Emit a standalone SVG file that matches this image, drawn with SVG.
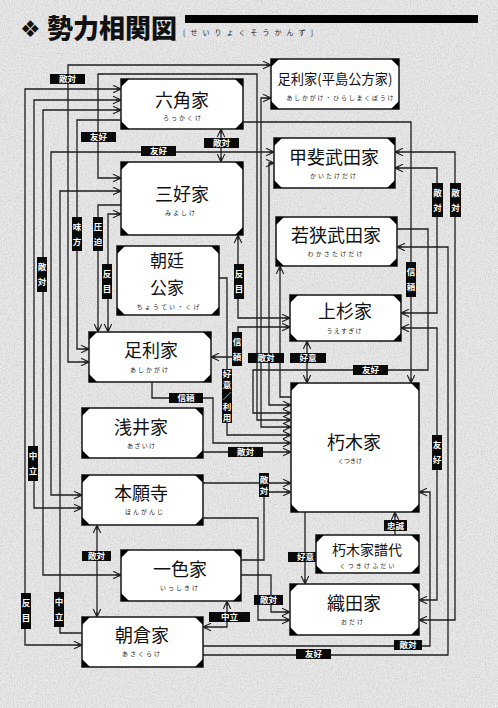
<svg xmlns="http://www.w3.org/2000/svg" width="498" height="708" viewBox="0 0 498 708">
<defs>
<style>
.ln{fill:none;stroke:#1e1e1e;stroke-width:1.3}
.bx{fill:#fff;stroke:#222;stroke-width:1.6}
.cn{fill:#000}
.tt{font-family:"Noto Sans CJK JP","Noto Sans CJK SC",sans-serif;font-size:18px;text-anchor:middle;fill:#111}
.rb{font-family:"Noto Sans CJK JP","Noto Sans CJK SC",sans-serif;font-size:6px;text-anchor:middle;fill:#222}
.lb{fill:#0a0a0a}
.lt{font-family:"Noto Sans CJK JP","Noto Sans CJK SC",sans-serif;font-size:8.5px;font-weight:700;fill:#fff;text-anchor:middle}
</style>
<marker id="a" markerUnits="userSpaceOnUse" markerWidth="10" markerHeight="9" refX="9" refY="4.5" orient="auto-start-reverse">
<path d="M1,0.8 L9,4.5 L1,8.2 M4,4.5 L9,4.5" fill="none" stroke="#1e1e1e" stroke-width="1.1"/>
</marker>
<filter id="nz" x="0" y="0" width="100%" height="100%">
<feTurbulence type="fractalNoise" baseFrequency="0.75" numOctaves="2" seed="4"/>
<feColorMatrix type="matrix" values="0 0 0 0 0.35  0 0 0 0 0.35  0 0 0 0 0.35  0 0 0 1.6 -0.65"/>
</filter>
</defs>
<rect width="498" height="708" fill="#e9e9e9"/>
<rect width="498" height="708" filter="url(#nz)" opacity="0.55"/>

<g id="title">
<text x="20" y="37" font-family="DejaVu Sans,sans-serif" font-size="23" fill="#111">❖</text>
<text x="47" y="38" font-family="'Noto Sans CJK JP','Noto Sans CJK SC',sans-serif" font-size="26" font-weight="900" fill="#111">勢力相関図</text>
<rect x="185" y="15" width="293" height="8" fill="#000"/>
<text x="183" y="35" font-family="'Noto Sans CJK JP',sans-serif" font-size="7" fill="#222" textLength="130" lengthAdjust="spacing">[せいりょくそうかんず]</text>
</g>

<g id="connectors">
<path class="ln" marker-start="url(#a)" marker-end="url(#a)" d="M121,89 H25 V645 H82"/>
<path class="ln" marker-start="url(#a)" marker-end="url(#a)" d="M121,100 H34 V508 H82"/>
<path class="ln" marker-start="url(#a)" marker-end="url(#a)" d="M121,110 H43 V575 H121"/>
<path class="ln" marker-start="url(#a)" marker-end="url(#a)" d="M274,152 H51 V495 H82"/>
<path class="ln" marker-end="url(#a)" d="M82,633 H60 V191 H121"/>
<path class="ln" marker-start="url(#a)" marker-end="url(#a)" d="M271,65 H68 V362 H89"/>
<path class="ln" marker-end="url(#a)" d="M121,120 H77 V349 H89"/>
<path class="ln" marker-start="url(#a)" marker-end="url(#a)" d="M291,420 H257 V74 H98 V178 H121"/>
<path class="ln" marker-end="url(#a)" d="M121,205 H98 V332"/>
<path class="ln" marker-start="url(#a)" marker-end="url(#a)" d="M121,214 H108 V332"/>
<path class="ln" marker-start="url(#a)" marker-end="url(#a)" d="M221,129 V162"/>
<path class="ln" marker-start="url(#a)" marker-end="url(#a)" d="M238,235 V318 H290"/>
<path class="ln" marker-start="url(#a)" marker-end="url(#a)" d="M290,327 H238 V357 H211"/>
<path class="ln" marker-end="url(#a)" d="M219,278 H227 V435 H291"/>
<path class="ln" marker-end="url(#a)" d="M152,382 V398 H213 V443 H291"/>
<path class="ln" marker-end="url(#a)" d="M203,452 H291"/>
<path class="ln" marker-start="url(#a)" marker-end="url(#a)" d="M307,341 V383"/>
<path class="ln" marker-end="url(#a)" d="M243,122 H411 V383"/>
<path class="ln" marker-start="url(#a)" marker-end="url(#a)" d="M395,168 H437 V313 H401"/>
<path class="ln" marker-start="url(#a)" marker-end="url(#a)" d="M395,152 H455 V620 H419"/>
<path class="ln" marker-start="url(#a)" marker-end="url(#a)" d="M401,328 H437 V600 H419"/>
<path class="ln" marker-start="url(#a)" d="M397,247 H448 V655 H203"/>
<path class="ln" marker-end="url(#a)" d="M397,229 H428 V370 H253 V413 H291"/>
<path class="ln" marker-end="url(#a)" d="M291,397 H280 V266"/>
<path class="ln" marker-start="url(#a)" marker-end="url(#a)" d="M274,163 H269 V405 H291"/>
<path class="ln" marker-start="url(#a)" marker-end="url(#a)" d="M271,98 H261 V427 H291"/>
<path class="ln" marker-start="url(#a)" d="M419,492 H430 V646 H203"/>
<path class="ln" marker-end="url(#a)" d="M305,512 V584"/>
<path class="ln" marker-end="url(#a)" d="M395,535 V512"/>
<path class="ln" marker-start="url(#a)" marker-end="url(#a)" d="M227,601 V627 H203"/>
<path class="ln" marker-start="url(#a)" marker-end="url(#a)" d="M97,525 V617"/>
<path class="ln" marker-end="url(#a)" d="M241,575 H271 V612 H290"/>
<path class="ln" marker-end="url(#a)" d="M203,518 H258 V620 H290"/>
<path class="ln" marker-end="url(#a)" d="M203,483 H291"/>
<path class="ln" marker-end="url(#a)" d="M241,560 H264 V492 H291"/>

<g id="labels">
<rect class="lb" x="50" y="74" width="35" height="10"/><text class="lt" x="67.5" y="82">敵対</text>
<rect class="lb" x="81" y="132" width="35" height="10"/><text class="lt" x="98.5" y="140">友好</text>
<rect class="lb" x="141" y="146" width="35" height="10"/><text class="lt" x="158.5" y="154">友好</text>
<rect class="lb" x="204" y="138" width="35" height="10"/><text class="lt" x="221.5" y="146">敵対</text>
<rect class="lb" x="290" y="353" width="36" height="10"/><text class="lt" x="308" y="361">好意</text>
<rect class="lb" x="248" y="353" width="36" height="10"/><text class="lt" x="266" y="361">敵対</text>
<rect class="lb" x="353" y="365" width="35" height="10"/><text class="lt" x="370.5" y="373">友好</text>
<rect class="lb" x="169" y="393" width="34" height="10"/><text class="lt" x="186" y="401">信頼</text>
<rect class="lb" x="228" y="447" width="35" height="10"/><text class="lt" x="245.5" y="455">敵対</text>
<rect class="lb" x="384" y="520" width="23" height="11"/><text class="lt" x="395.5" y="528.5">忠誠</text>
<rect class="lb" x="82" y="551" width="29" height="10"/><text class="lt" x="96.5" y="559">敵対</text>
<rect class="lb" x="288" y="552" width="35" height="10"/><text class="lt" x="305.5" y="560">好意</text>
<rect class="lb" x="254" y="595" width="29" height="10"/><text class="lt" x="268.5" y="603">敵対</text>
<rect class="lb" x="209" y="612" width="41" height="10"/><text class="lt" x="229.5" y="620">中立</text>
<rect class="lb" x="394" y="640" width="28" height="10"/><text class="lt" x="408" y="648">敵対</text>
<rect class="lb" x="296" y="649" width="35" height="10"/><text class="lt" x="313.5" y="657">友好</text>

<rect class="lb" x="432" y="183" width="11" height="34"/><text class="lt" x="437.5" y="196">敵</text><text class="lt" x="437.5" y="211">対</text>
<rect class="lb" x="450" y="183" width="11" height="34"/><text class="lt" x="455.5" y="196">敵</text><text class="lt" x="455.5" y="211">対</text>
<rect class="lb" x="72" y="217" width="10" height="34"/><text class="lt" x="77" y="230">味</text><text class="lt" x="77" y="245">方</text>
<rect class="lb" x="93" y="217" width="10" height="34"/><text class="lt" x="98" y="230">圧</text><text class="lt" x="98" y="245">迫</text>
<rect class="lb" x="37" y="257" width="10" height="35"/><text class="lt" x="42" y="270">敵</text><text class="lt" x="42" y="285">対</text>
<rect class="lb" x="102" y="264" width="10" height="35"/><text class="lt" x="107" y="277">反</text><text class="lt" x="107" y="292">目</text>
<rect class="lb" x="234" y="264" width="10" height="35"/><text class="lt" x="239" y="277">反</text><text class="lt" x="239" y="292">目</text>
<rect class="lb" x="406" y="262" width="10" height="35"/><text class="lt" x="411" y="275">信</text><text class="lt" x="411" y="290">頼</text>
<rect class="lb" x="232" y="332" width="10" height="34"/><text class="lt" x="237" y="345">信</text><text class="lt" x="237" y="360">頼</text>
<rect class="lb" x="222" y="369" width="10" height="54"/><text class="lt" x="227" y="377">好</text><text class="lt" x="227" y="388">意</text><text class="lt" x="227" y="399">／</text><text class="lt" x="227" y="410">利</text><text class="lt" x="227" y="421">用</text>
<rect class="lb" x="28" y="446" width="10" height="35"/><text class="lt" x="33" y="459">中</text><text class="lt" x="33" y="474">立</text>
<rect class="lb" x="432" y="435" width="10" height="35"/><text class="lt" x="437" y="448">友</text><text class="lt" x="437" y="463">好</text>
<rect class="lb" x="259" y="473" width="10" height="24"/><text class="lt" x="264" y="483">敵</text><text class="lt" x="264" y="494">対</text>
<rect class="lb" x="21" y="593" width="10" height="36"/><text class="lt" x="26" y="606">反</text><text class="lt" x="26" y="621">目</text>
<rect class="lb" x="54" y="592" width="10" height="35"/><text class="lt" x="59" y="605">中</text><text class="lt" x="59" y="620">立</text>
</g>
</g>

<g id="rokkaku"><rect class="bx" x="121" y="79" width="122" height="50"/><path class="cn" d="M121,79h8l-8,8zM243,79h-8l8,8zM121,129h8l-8,-8zM243,129h-8l8,-8z"/><text class="tt" x="182" y="107">六角家</text><text class="rb" x="182" y="120" textLength="38" lengthAdjust="spacing">ろっかくけ</text></g>
<g id="hirashima"><rect class="bx" x="271" y="59" width="128" height="50"/><path class="cn" d="M271,59h8l-8,8zM399,59h-8l8,8zM271,109h8l-8,-8zM399,109h-8l8,-8z"/><text class="tt" x="335" y="84" style="font-size:14px" textLength="115" lengthAdjust="spacingAndGlyphs">足利家(平島公方家)</text><text class="rb" x="340" y="100" textLength="107" lengthAdjust="spacing">あしかがけ・ひらしまくぼうけ</text></g>
<g id="kai"><rect class="bx" x="274" y="138" width="121" height="50"/><path class="cn" d="M274,138h8l-8,8zM395,138h-8l8,8zM274,188h8l-8,-8zM395,188h-8l8,-8z"/><text class="tt" x="334" y="164">甲斐武田家</text><text class="rb" x="333" y="178" textLength="46" lengthAdjust="spacing">かいたけだけ</text></g>
<g id="miyoshi"><rect class="bx" x="121" y="162" width="122" height="73"/><path class="cn" d="M121,162h8l-8,8zM243,162h-8l8,8zM121,235h8l-8,-8zM243,235h-8l8,-8z"/><text class="tt" x="182" y="201">三好家</text><text class="rb" x="180" y="215" textLength="30" lengthAdjust="spacing">みよしけ</text></g>
<g id="wakasa"><rect class="bx" x="276" y="217" width="121" height="49"/><path class="cn" d="M276,217h8l-8,8zM397,217h-8l8,8zM276,266h8l-8,-8zM397,266h-8l8,-8z"/><text class="tt" x="336" y="242">若狭武田家</text><text class="rb" x="335" y="256" textLength="55" lengthAdjust="spacing">わかさたけだけ</text></g>
<g id="chotei"><rect class="bx" x="117" y="246" width="102" height="69"/><path class="cn" d="M117,246h8l-8,8zM219,246h-8l8,8zM117,315h8l-8,-8zM219,315h-8l8,-8z"/><text class="tt" x="167" y="267" style="font-size:17px">朝廷</text><text class="tt" x="167" y="294" style="font-size:17px">公家</text><text class="rb" x="168" y="309" textLength="63" lengthAdjust="spacing">ちょうてい・くげ</text></g>
<g id="uesugi"><rect class="bx" x="290" y="295" width="111" height="46"/><path class="cn" d="M290,295h8l-8,8zM401,295h-8l8,8zM290,341h8l-8,-8zM401,341h-8l8,-8z"/><text class="tt" x="345" y="318">上杉家</text><text class="rb" x="344" y="333" textLength="35" lengthAdjust="spacing">うえすぎけ</text></g>
<g id="ashikaga"><rect class="bx" x="89" y="332" width="122" height="50"/><path class="cn" d="M89,332h8l-8,8zM211,332h-8l8,8zM89,382h8l-8,-8zM211,382h-8l8,-8z"/><text class="tt" x="151" y="357">足利家</text><text class="rb" x="149" y="372" textLength="38" lengthAdjust="spacing">あしかがけ</text></g>
<g id="kutsuki"><rect class="bx" x="291" y="383" width="128" height="129"/><path class="cn" d="M291,383h8l-8,8zM419,383h-8l8,8zM291,512h8l-8,-8zM419,512h-8l8,-8z"/><text class="tt" x="354" y="449">朽木家</text><text class="rb" x="350" y="463" textLength="24" lengthAdjust="spacing">くつきけ</text></g>
<g id="azai"><rect class="bx" x="82" y="408" width="121" height="50"/><path class="cn" d="M82,408h8l-8,8zM203,408h-8l8,8zM82,458h8l-8,-8zM203,458h-8l8,-8z"/><text class="tt" x="141" y="434">浅井家</text><text class="rb" x="141" y="448" textLength="28" lengthAdjust="spacing">あざいけ</text></g>
<g id="honganji"><rect class="bx" x="82" y="475" width="121" height="50"/><path class="cn" d="M82,475h8l-8,8zM203,475h-8l8,8zM82,525h8l-8,-8zM203,525h-8l8,-8z"/><text class="tt" x="141" y="500">本願寺</text><text class="rb" x="144" y="514" textLength="38" lengthAdjust="spacing">ほんがんじ</text></g>
<g id="isshiki"><rect class="bx" x="121" y="550" width="120" height="51"/><path class="cn" d="M121,550h8l-8,8zM241,550h-8l8,8zM121,601h8l-8,-8zM241,601h-8l8,-8z"/><text class="tt" x="180" y="576">一色家</text><text class="rb" x="179" y="590" textLength="38" lengthAdjust="spacing">いっしきけ</text></g>
<g id="fudai"><rect class="bx" x="316" y="535" width="103" height="38"/><path class="cn" d="M316,535h8l-8,8zM419,535h-8l8,8zM316,573h8l-8,-8zM419,573h-8l8,-8z"/><text class="tt" x="367" y="555" style="font-size:14px">朽木家譜代</text><text class="rb" x="367" y="568" textLength="55" lengthAdjust="spacing">くつきけふだい</text></g>
<g id="oda"><rect class="bx" x="290" y="584" width="129" height="51"/><path class="cn" d="M290,584h8l-8,8zM419,584h-8l8,8zM290,635h8l-8,-8zM419,635h-8l8,-8z"/><text class="tt" x="354" y="610">織田家</text><text class="rb" x="352" y="624" textLength="22" lengthAdjust="spacing">おだけ</text></g>
<g id="asakura"><rect class="bx" x="82" y="617" width="121" height="50"/><path class="cn" d="M82,617h8l-8,8zM203,617h-8l8,8zM82,667h8l-8,-8zM203,667h-8l8,-8z"/><text class="tt" x="142" y="642">朝倉家</text><text class="rb" x="141" y="656" textLength="38" lengthAdjust="spacing">あさくらけ</text></g>
</svg>
